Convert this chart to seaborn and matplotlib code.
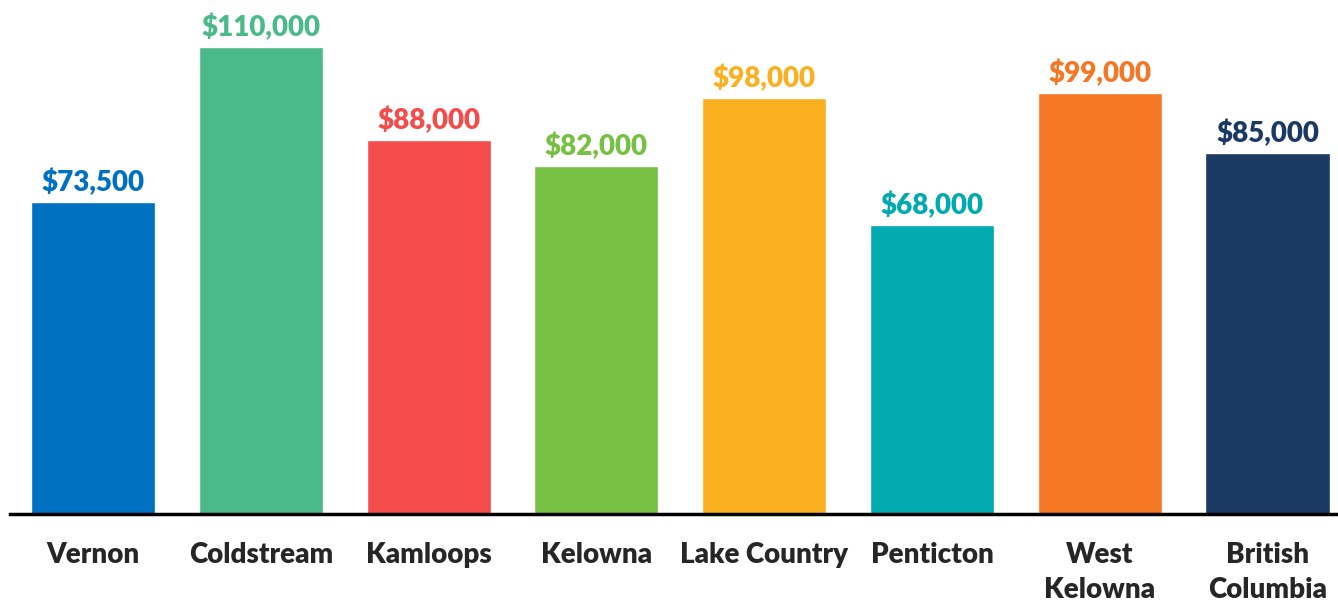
import seaborn as sns
import matplotlib.pyplot as plt
import pandas as pd

# data
cities = ["Vernon", "Coldstream", "Kamloops", "Kelowna", "Lake Country",
          "Penticton", "West\nKelowna", "British\nColumbia"]
incomes = [73500, 110000, 88000, 82000, 98000, 68000, 99000, 85000]
colors = ["#0070C0", "#4BBA8A", "#F44B4B", "#77C043", "#FBB01F",
          "#00AAAE", "#F57623", "#1B3A63"]

df = pd.DataFrame({"city": cities, "income": incomes})

sns.set_style("white")
plt.rcParams['font.family'] = ['Lato', 'DejaVu Sans']

fig = plt.figure(figsize=(13.38, 6.03), dpi=100)
ax = fig.add_axes([10 / 1338, 89 / 603, 1328 / 1338, 514 / 603])

sns.barplot(data=df, x="city", y="income", hue="city", palette=colors,
            legend=False, width=0.74, saturation=1, ax=ax)

# value labels above bars
for i, (v, c) in enumerate(zip(incomes, colors)):
    ax.text(i, v + 1400, f"${v:,}", ha="center", va="bottom",
            color=c, fontsize=20, fontweight="heavy")

ax.set_xlim(-0.495, 7.42)
ax.set_ylim(0, 121000)

for s in ["top", "right", "left"]:
    ax.spines[s].set_visible(False)
ax.spines["bottom"].set_linewidth(2.5)
ax.spines["bottom"].set_color("black")

ax.set_yticks([])
ax.set_xlabel("")
ax.set_ylabel("")
ax.tick_params(axis="x", length=0, pad=20, labelsize=20)
for t in ax.get_xticklabels():
    t.set_fontweight("heavy")
    t.set_va("top")
    t.set_linespacing(1.45)

fig.savefig("out.png", dpi=100)
plt.close()
